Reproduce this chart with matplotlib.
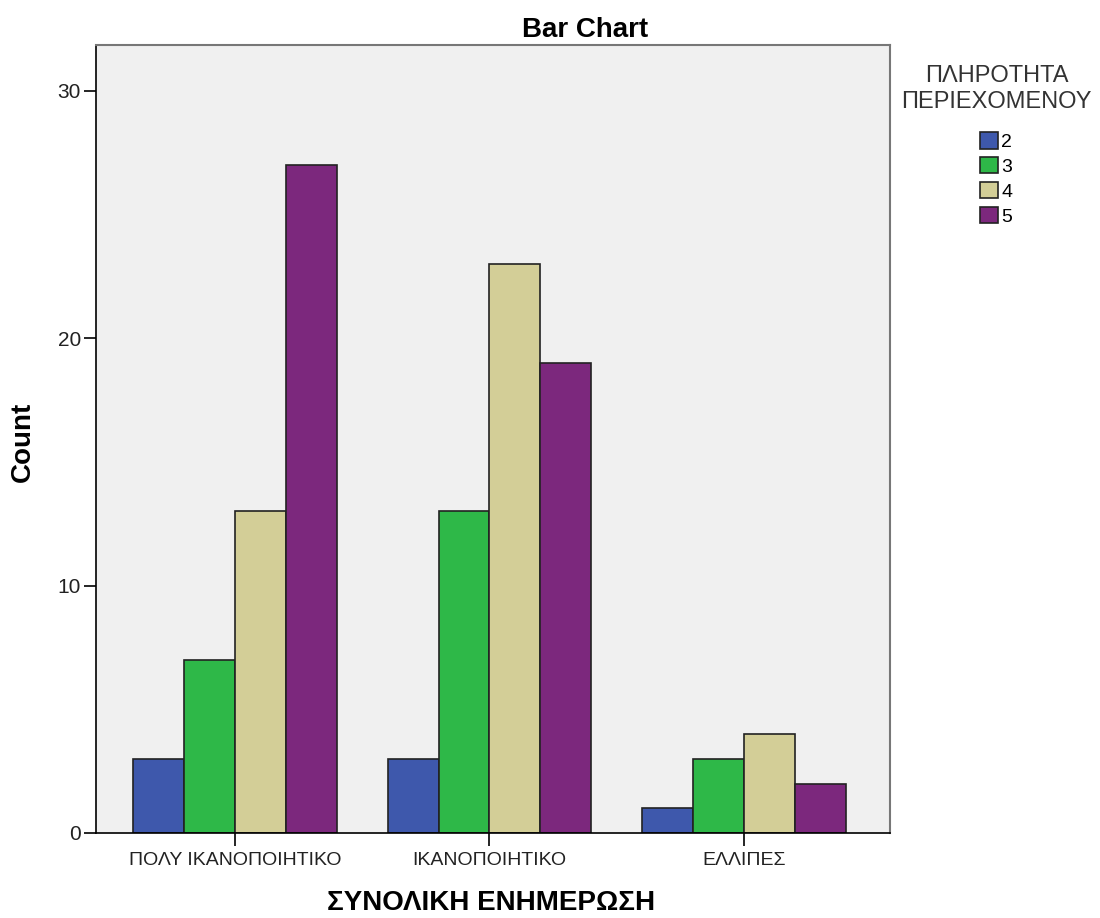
import matplotlib.pyplot as plt
import numpy as np

plt.rcParams['font.family'] = ['Liberation Sans', 'DejaVu Sans']

# data
categories = ["ΠΟΛΥ ΙΚΑΝΟΠΟΙΗΤΙΚΟ", "ΙΚΑΝΟΠΟΙΗΤΙΚΟ", "ΕΛΛΙΠΕΣ"]
series_names = ["2", "3", "4", "5"]
counts_2 = [3, 3, 1]
counts_3 = [7, 13, 3]
counts_4 = [13, 23, 4]
counts_5 = [27, 19, 2]
colors = ["#3E58AC", "#2EB848", "#D3CE97", "#7C287D"]

fig = plt.figure(figsize=(11, 9.18), dpi=100)
ax = fig.add_axes([0.0873, 0.0926, 0.7217, 0.8584])
ax.set_facecolor("#F0F0F0")

x = np.arange(len(categories))
width = 0.2
all_counts = [counts_2, counts_3, counts_4, counts_5]
for i, vals in enumerate(all_counts):
    ax.bar(x + (i - 1.5) * width, vals, width, color=colors[i],
           edgecolor="#222222", linewidth=1.2, label=series_names[i], zorder=2)

ax.set_xlim(-0.546, 2.574)
ax.set_ylim(0, 31.86)
ax.set_xticks(x)
ax.set_xticklabels(categories, fontsize=14, color='#222222')
ax.set_yticks([0, 10, 20, 30])
ax.tick_params(axis='y', length=9, width=1.2, labelsize=15, pad=2, labelcolor='#222222')
ax.tick_params(axis='x', length=9, width=1.2, pad=5)

for s in ['left', 'bottom']:
    ax.spines[s].set_color('black')
    ax.spines[s].set_linewidth(1.2)
for s in ['top', 'right']:
    ax.spines[s].set_color('#777777')
    ax.spines[s].set_linewidth(1.5)

# titles placed in figure coordinates to match the reference
fig.text(0.532, 0.9597, "Bar Chart", ha='center', va='baseline',
         fontsize=20, fontweight='bold')
fig.text(0.021, 0.519, "Count", ha='center', va='center', rotation=90,
         fontsize=20, fontweight='bold')
fig.text(0.446, 0.009, "ΣΥΝΟΛΙΚΗ ΕΝΗΜΕΡΩΣΗ", ha='center', va='baseline',
         fontsize=20, fontweight='bold')

# legend
fig.text(0.906, 0.903, "ΠΛΗΡΟΤΗΤΑ\nΠΕΡΙΕΧΟΜΕΝΟΥ", ha='center', va='center',
         fontsize=17, color='#333333', linespacing=1.2)
leg = fig.legend(loc='upper left', bbox_to_anchor=(0.882, 0.867), frameon=False,
                 fontsize=14, handlelength=0.95, handleheight=0.95,
                 handletextpad=0.15, labelspacing=0.3, borderpad=0)

fig.savefig("out.png", dpi=100)
